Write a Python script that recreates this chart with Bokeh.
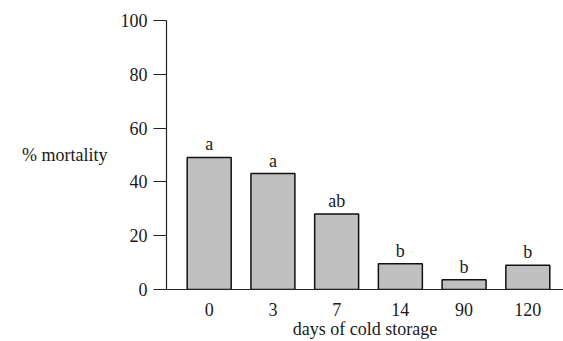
from bokeh.plotting import figure
from bokeh.models import ColumnDataSource, Range1d, FixedTicker
from bokeh.embed import file_html
from bokeh.resources import INLINE
from bokeh.core.properties import value

days = ["0", "3", "7", "14", "90", "120"]
mortality = [49.1, 43.1, 28.1, 9.6, 3.6, 9.0]
letters = ["a", "a", "ab", "b", "b", "b"]
y_ticks = [0, 20, 40, 60, 80, 100]

FONT = "Liberation Serif"
FS = "18px"
TXT = "#1a1a1a"

pos = list(range(len(days)))
src = ColumnDataSource(dict(x=pos, top=mortality, lab=letters))

p = figure(width=563, height=341, output_backend="svg", toolbar_location=None,
           x_range=Range1d(-0.67, 5.56), y_range=Range1d(0, 100),
           min_border_left=166, min_border_right=0, min_border_top=20,
           min_border_bottom=51)
p.outline_line_color = None
p.grid.grid_line_color = None
p.background_fill_color = "white"

p.vbar(x="x", top="top", bottom=0, width=0.69, source=src,
       fill_color="#c0c0c0", line_color="#111111", line_width=1.5)
p.text(x="x", y="top", text="lab", source=src, text_align="center",
       text_baseline="bottom", y_offset=-3, text_font=value(FONT),
       text_font_size=FS, text_color=TXT)

xa = p.xaxis[0]
xa.ticker = FixedTicker(ticks=pos)
xa.major_label_overrides = {i: d for i, d in enumerate(days)}
xa.major_tick_out = 0
xa.major_tick_in = 0
xa.minor_tick_out = 0
xa.minor_tick_in = 0
xa.axis_line_color = "#222222"
xa.axis_line_width = 1.2
xa.major_label_standoff = 13
xa.major_label_text_font = FONT
xa.major_label_text_font_size = FS
xa.major_label_text_color = TXT
xa.axis_label = "days of cold storage"
xa.axis_label_text_font = FONT
xa.axis_label_text_font_size = FS
xa.axis_label_text_font_style = "normal"
xa.axis_label_text_color = TXT
xa.axis_label_standoff = 0

ya = p.yaxis[0]
ya.ticker = FixedTicker(ticks=y_ticks)
ya.major_tick_out = 13
ya.major_tick_in = 0
ya.minor_tick_out = 0
ya.minor_tick_in = 0
ya.axis_line_color = "#222222"
ya.axis_line_width = 1.2
ya.major_tick_line_color = "#222222"
ya.major_tick_line_width = 1.2
ya.major_label_standoff = 6
ya.major_label_text_font = FONT
ya.major_label_text_font_size = FS
ya.major_label_text_color = TXT
ya.axis_label = "% mortality"
ya.axis_label_orientation = "horizontal"
ya.axis_label_standoff = 10
ya.axis_label_text_font = FONT
ya.axis_label_text_font_size = FS
ya.axis_label_text_font_style = "normal"
ya.axis_label_text_color = TXT

open("out.html", "w").write(file_html(p, INLINE))
